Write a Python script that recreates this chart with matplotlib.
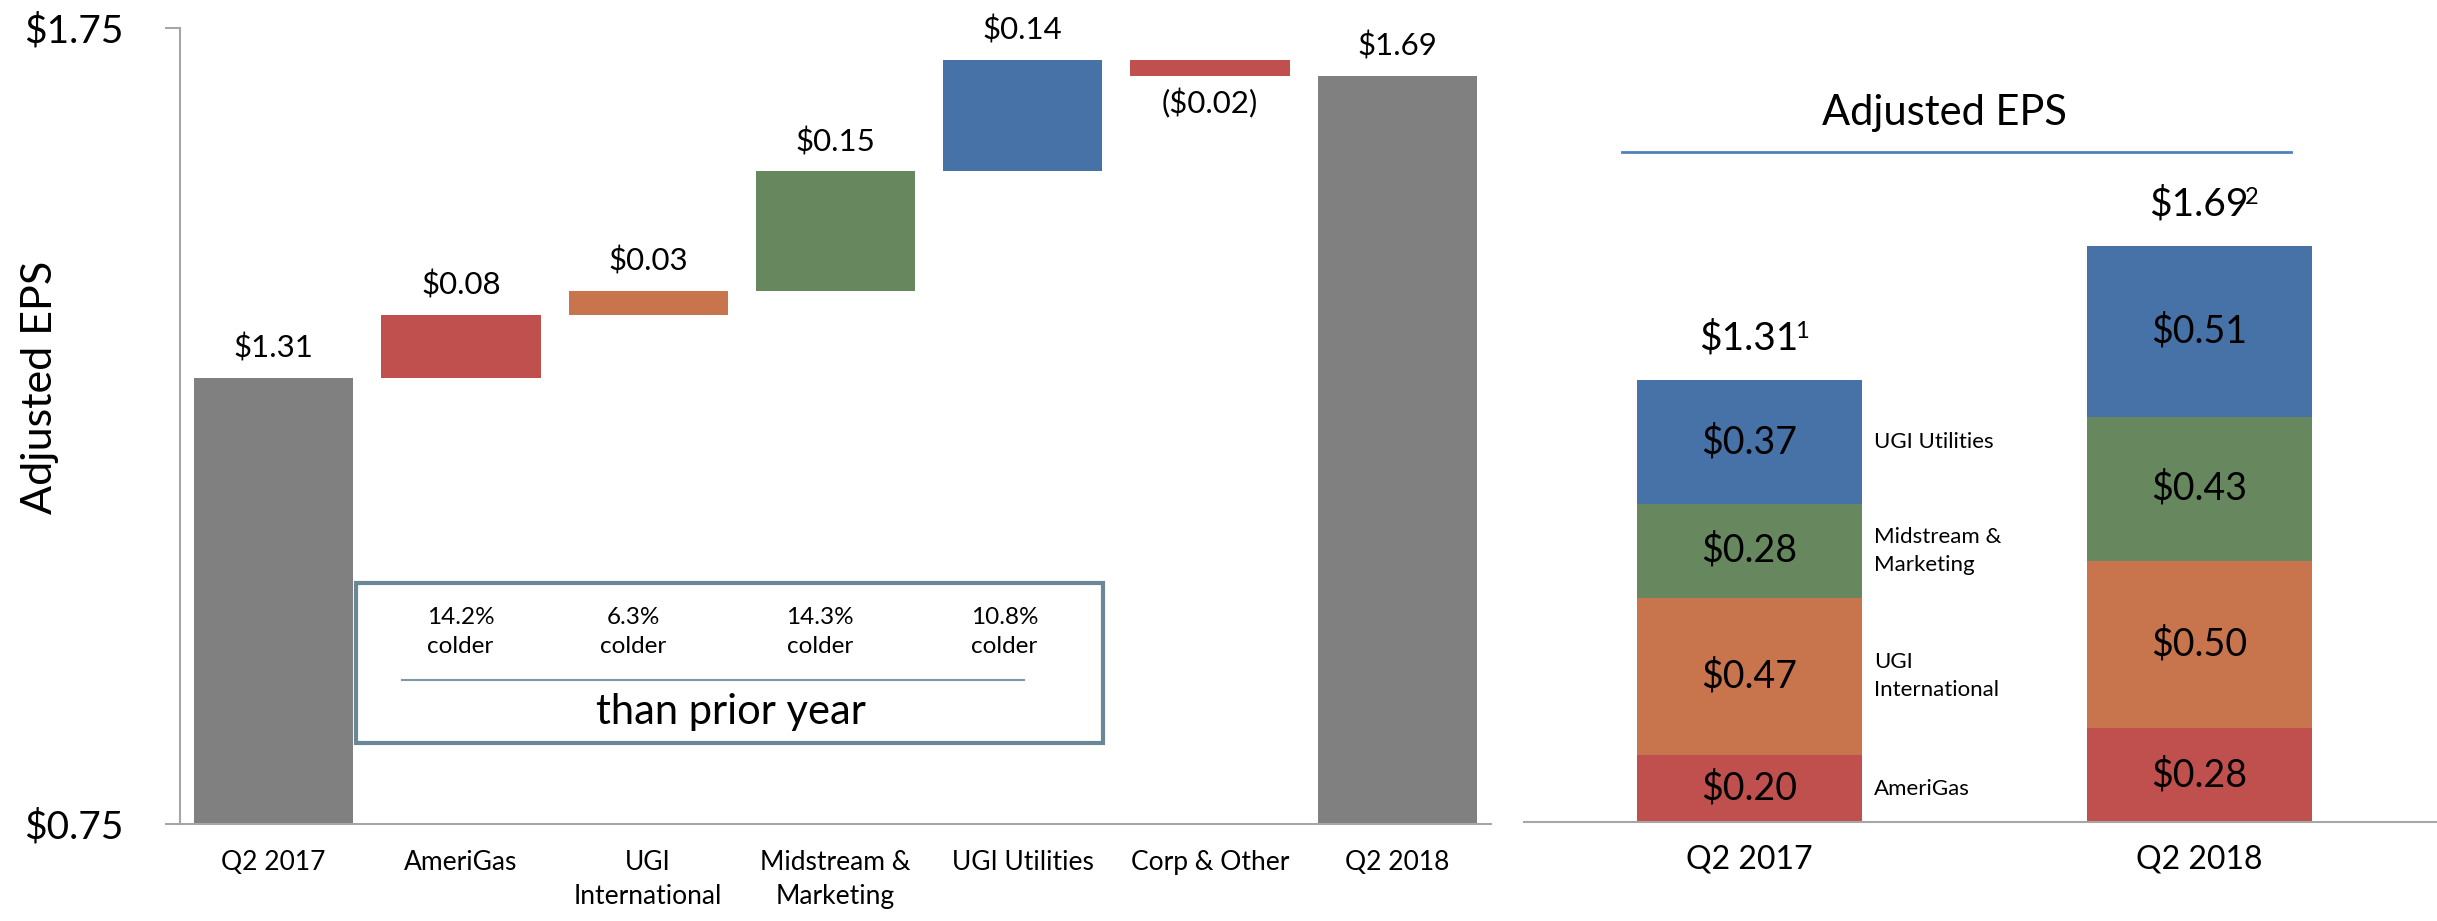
import matplotlib.pyplot as plt
from matplotlib.patches import Rectangle
from matplotlib.lines import Line2D

plt.rcParams['font.family'] = ['Lato', 'DejaVu Sans']

# --- data ---
wf_categories = ['Q2 2017', 'AmeriGas', 'UGI\nInternational', 'Midstream &\nMarketing',
                 'UGI Utilities', 'Corp & Other', 'Q2 2018']
start_eps = 1.31
segment_changes = [0.08, 0.03, 0.15, 0.14, -0.02]
end_eps = 1.69

weather_notes = ['14.2%\ncolder', '6.3%\ncolder', '14.3%\ncolder', '10.8%\ncolder']
weather_caption = 'than prior year'

stack_years = ['Q2 2017', 'Q2 2018']
stack_segments = ['AmeriGas', 'UGI\nInternational', 'Midstream &\nMarketing', 'UGI Utilities']
amerigas = [0.20, 0.28]
ugi_international = [0.47, 0.50]
midstream = [0.28, 0.43]
ugi_utilities = [0.37, 0.51]
reported_totals = [1.31, 1.69]
footnotes = ['1', '2']

# --- style ---
W, H = 2437, 921
GRAY = '#808080'
RED = '#c0504d'
ORANGE = '#c8754e'
GREEN = '#67875f'
BLUE = '#4672a7'
AXIS = '#a6a6a6'
BOX = '#6b8694'
wf_colors = [GRAY, RED, ORANGE, GREEN, BLUE, RED, GRAY]
seg_colors = [RED, ORANGE, GREEN, BLUE]


def money(v):
    return f'${v:.2f}' if v >= 0 else f'(${abs(v):.2f})'


fig = plt.figure(figsize=(W / 100, H / 100), dpi=100)

# --- waterfall ---
ax = fig.add_axes([180 / W, (H - 824) / H, 1311 / W, 796 / H])
bottoms, heights, values = [0], [start_eps], [start_eps]
running = start_eps
for d in segment_changes:
    bottoms.append(min(running, running + d))
    heights.append(abs(d))
    values.append(d)
    running += d
bottoms.append(0)
heights.append(end_eps)
values.append(end_eps)

x = list(range(len(wf_categories)))
ax.bar(x, heights, bottom=bottoms, width=0.85, color=wf_colors)
for xi, b, h, v in zip(x, bottoms, heights, values):
    if v >= 0:
        ax.annotate(money(v), (xi, b + h), xytext=(0, 11), textcoords='offset points',
                    ha='center', va='bottom', fontsize=22.5)
    else:
        ax.annotate(money(v), (xi, b), xytext=(0, -9), textcoords='offset points',
                    ha='center', va='top', fontsize=22.5)

ax.set_xlim(-0.5, 6.5)
ax.set_ylim(0.75, 1.75)
ax.set_yticks([0.75, 1.75])
ax.set_yticklabels([money(0.75), money(1.75)], fontsize=28)
ax.tick_params(axis='y', length=11, width=1.5, color=AXIS, pad=30)
ax.set_xticks(x)
ax.set_xticklabels(wf_categories, fontsize=19)
ax.tick_params(axis='x', length=0, pad=19)
for lab in ax.get_xticklabels():
    lab.set_linespacing(1.45)
for s in ['top', 'right']:
    ax.spines[s].set_visible(False)
for s in ['left', 'bottom']:
    ax.spines[s].set_color(AXIS)
    ax.spines[s].set_linewidth(1.5)

# weather note box
ax.add_patch(Rectangle((0.134, 0.102), 0.570, 0.201, transform=ax.transAxes,
                       fill=False, edgecolor=BOX, linewidth=3, zorder=5))
for nx, note in zip([0.214, 0.346, 0.488, 0.629], weather_notes):
    ax.text(nx, 0.241, note, transform=ax.transAxes, ha='center', va='center',
            fontsize=17.5, linespacing=1.5)
ax.add_line(Line2D([0.169, 0.644], [0.181, 0.181], transform=ax.transAxes,
                   color='#7f97a3', linewidth=1.5))
ax.text(0.420, 0.141, weather_caption, transform=ax.transAxes, ha='center', va='center',
        fontsize=30)

fig.text(40 / W, 1 - 387 / H, 'Adjusted EPS', rotation=90, ha='center', va='center',
         fontsize=31)

# --- stacked bars ---
rax = fig.add_axes([1524 / W, (H - 822) / H, 913 / W, 670 / H])
rx = list(range(len(stack_years)))
stack = [amerigas, ugi_international, midstream, ugi_utilities]
base = [0.0, 0.0]
for seg_vals, col, name in zip(stack, seg_colors, stack_segments):
    rax.bar(rx, seg_vals, bottom=base, width=0.5, color=col)
    for xi, b, v in zip(rx, base, seg_vals):
        rax.text(xi, b + v / 2, money(v), ha='center', va='center', fontsize=27)
    rax.text(0.278, base[0] + seg_vals[0] / 2, name, ha='left', va='center',
             fontsize=16, linespacing=1.5)
    base = [b + v for b, v in zip(base, seg_vals)]

for xi, top, tot, fn in zip(rx, base, reported_totals, footnotes):
    t = rax.annotate(money(tot), (xi, top), xytext=(0, 17), textcoords='offset points',
                     ha='center', va='bottom', fontsize=28)
    rax.annotate(fn, xy=(1, 0.97), xycoords=t, xytext=(-2.5, 0), textcoords='offset points',
                 ha='left', va='top', fontsize=17)

rax.set_xlim(-0.5, -0.5 + 913 / 450)
rax.set_ylim(0, 2.0)
rax.set_yticks([])
rax.set_xticks(rx)
rax.set_xticklabels(stack_years, fontsize=23)
rax.tick_params(axis='x', length=0, pad=16)
for s in ['top', 'right', 'left']:
    rax.spines[s].set_visible(False)
rax.spines['bottom'].set_color(AXIS)
rax.spines['bottom'].set_linewidth(1.5)

fig.text(1944 / W, 1 - 113 / H, 'Adjusted EPS', ha='center', va='center', fontsize=30)
fig.add_artist(Line2D([1622 / W, 2291 / W], [1 - 152 / H, 1 - 152 / H],
                      transform=fig.transFigure, color='#4f81bd', linewidth=2))

fig.savefig('out.png', dpi=100)
